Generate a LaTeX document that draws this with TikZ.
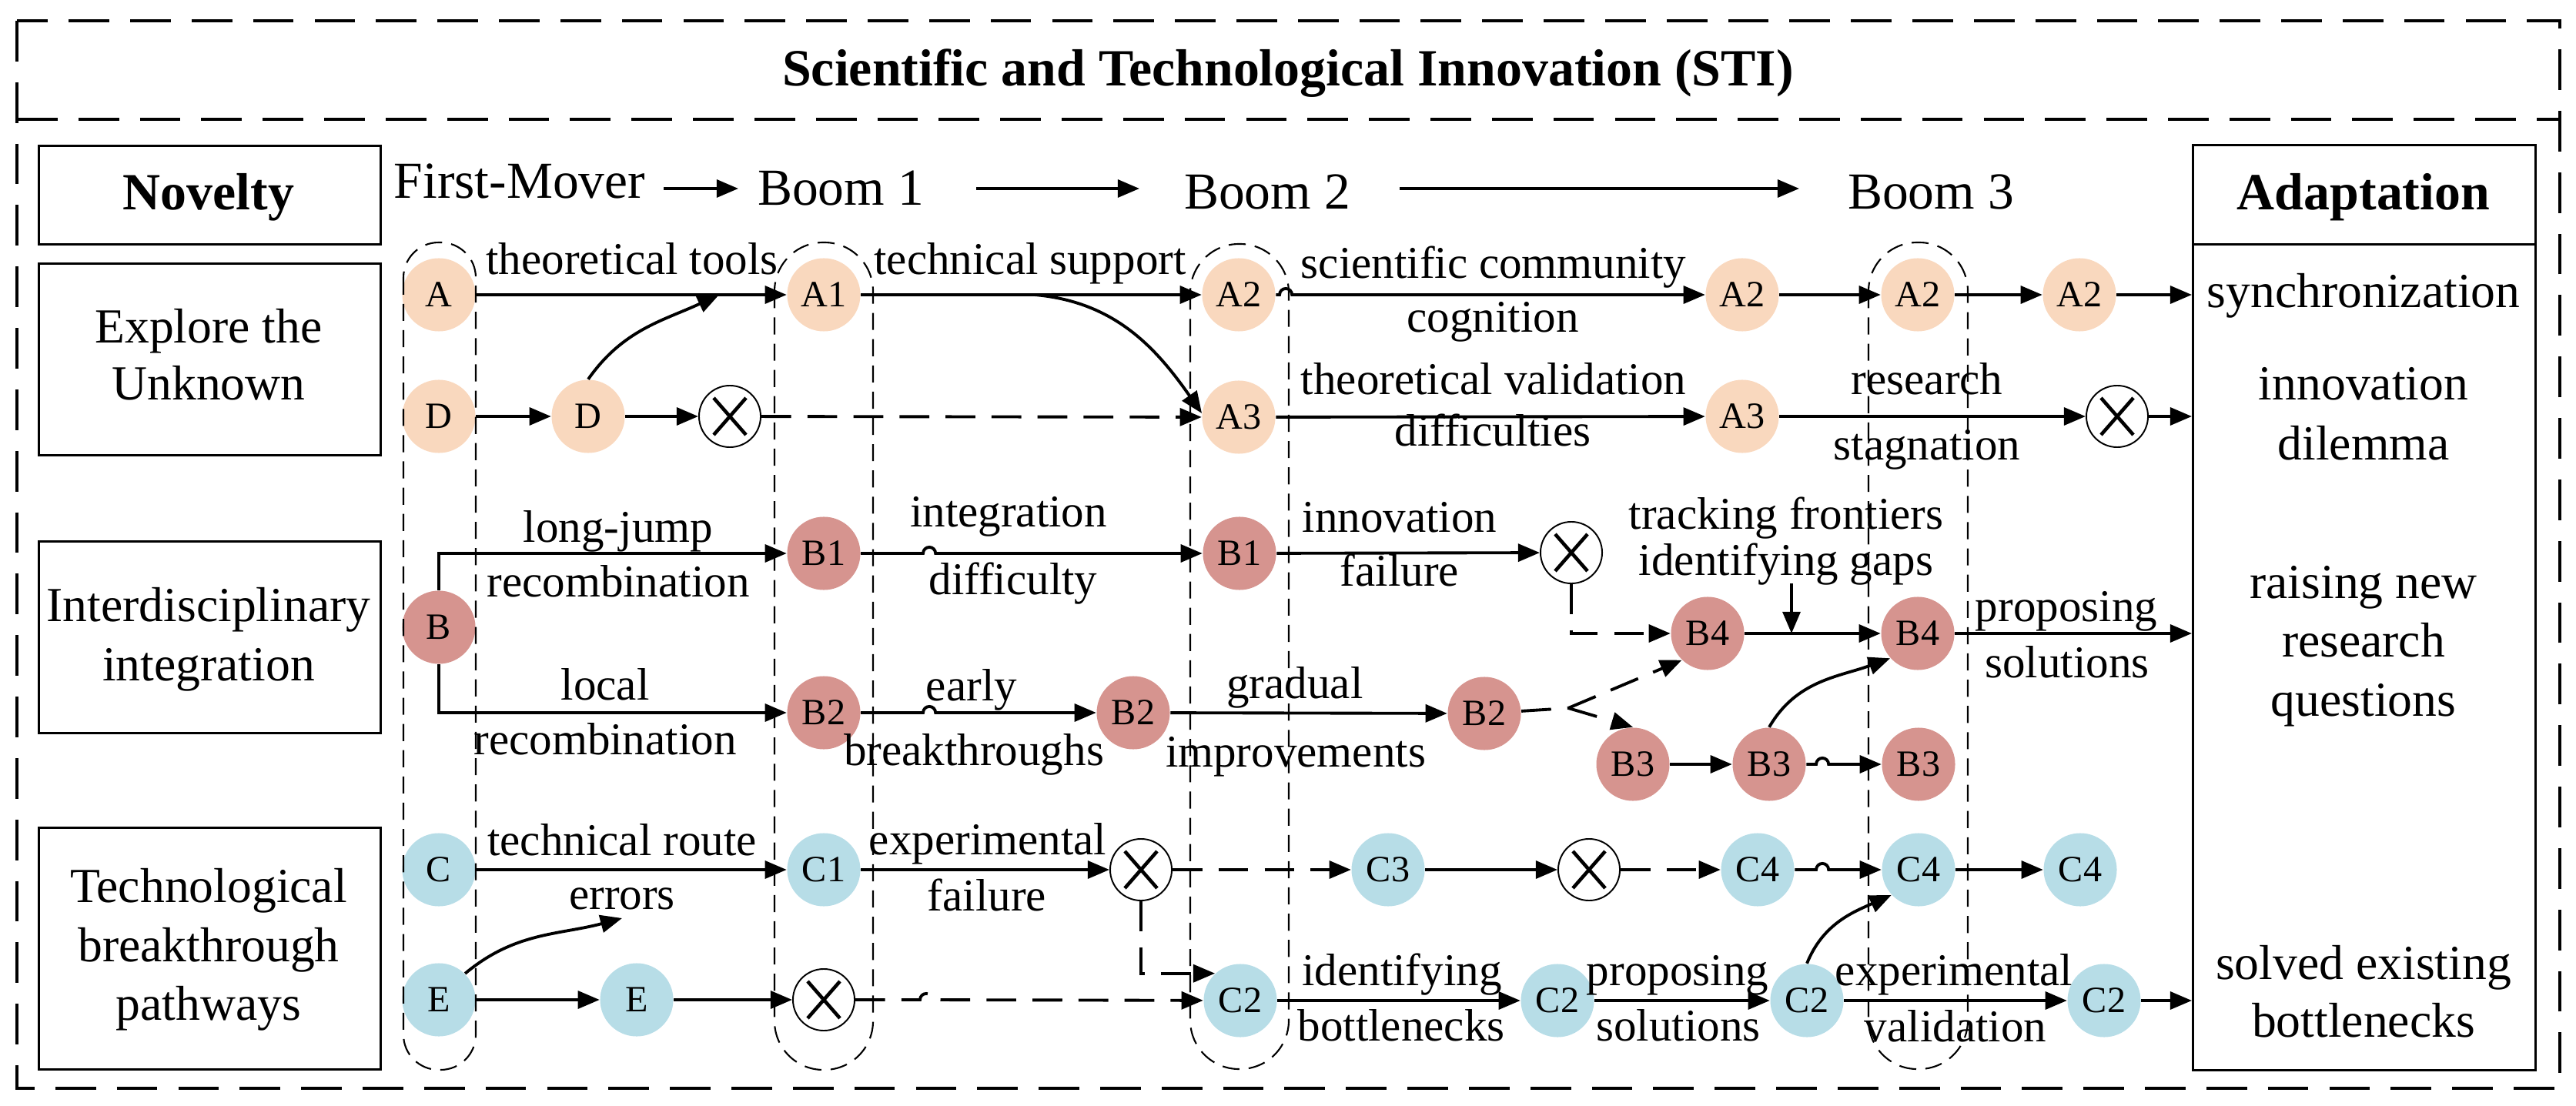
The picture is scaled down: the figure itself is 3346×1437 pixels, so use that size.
\documentclass[tikz,border=0pt]{standalone}
\usepackage{fontspec}
\setmainfont{Liberation Serif}
\usetikzlibrary{arrows.meta}
\definecolor{peach}{HTML}{F9D8BE}
\definecolor{rose}{HTML}{D6948F}
\definecolor{sky}{HTML}{B7DDE7}
\begin{document}
\begin{tikzpicture}[x=0.01cm,y=-0.01cm,
 nd/.style={circle,minimum size=0.95cm,inner sep=0pt,font=\fontsize{13.7}{16}\selectfont},
 na/.style={nd,fill=peach}, nb/.style={nd,fill=rose}, nc/.style={nd,fill=sky},
 xn/.style={circle,draw,line width=0.55pt,fill=white,minimum size=0.8cm,inner sep=0pt,
   path picture={\draw[line width=1.3pt] (path picture bounding box.center) ++(-21,-24) -- ++(42,48);
                 \draw[line width=1.3pt] (path picture bounding box.center) ++(21,-24) -- ++(-42,48);}},
 lab/.style={font=\fontsize{16.8}{19}\selectfont,inner sep=0pt,anchor=base},
 btxt/.style={font=\fontsize{18.1}{22}\selectfont,inner sep=0pt,anchor=base},
 htxt/.style={font=\fontsize{19.2}{23}\selectfont,inner sep=0pt,anchor=base},
 hbold/.style={font=\bfseries\fontsize{19.3}{23}\selectfont,inner sep=0pt,anchor=base},
 arr/.style={line width=1.1pt,-{Triangle[length=8pt,width=6.5pt]}},
 darr/.style={arr,dash pattern=on 11pt off 6pt},
 dln/.style={line width=1.1pt,dash pattern=on 11pt off 6pt},
 coldash/.style={line width=0.6pt,dash pattern=on 6.3pt off 3.4pt},
 outerdash/.style={line width=1pt,dash pattern=on 15pt off 7.7pt},
 sbox/.style={draw,line width=0.85pt,inner sep=0pt,anchor=north west}
]
\useasboundingbox (0,0) rectangle (3346,1437);

% outer frames
\draw[outerdash] (22,27) rectangle (3325,1414);
\draw[outerdash] (22,155) -- (3325,155);
\node[hbold] (title) at (1673,112) {Scientific and Technological Innovation (STI)};

% left boxes
\node[sbox,minimum width=4.44cm,minimum height=1.28cm] (novbox) at (49,188) {};
\node[sbox,minimum width=4.44cm,minimum height=2.49cm] (expbox) at (49,341) {};
\node[sbox,minimum width=4.44cm,minimum height=2.49cm] (intbox) at (49,702) {};
\node[sbox,minimum width=4.44cm,minimum height=3.14cm] (tecbox) at (49,1074) {};
\node[hbold] (tnov) at (271,273) {Novelty};
\node[btxt] (texp1) at (271,446) {Explore the};
\node[btxt] (texp2) at (271,520) {Unknown};
\node[btxt] (tint1) at (271,807) {Interdisciplinary};
\node[btxt] (tint2) at (271,884) {integration};
\node[btxt] (ttec1) at (271,1172) {Technological};
\node[btxt] (ttec2) at (271,1249) {breakthrough};
\node[btxt] (ttec3) at (271,1325) {pathways};

% adaptation column
\node[sbox,minimum width=4.45cm,minimum height=1.29cm] (adhead) at (2847,187) {};
\node[sbox,minimum width=4.45cm,minimum height=10.72cm] (adapt) at (2847,316) {};
\node[hbold] (tad) at (3070,273) {Adaptation};
\node[btxt] (ad1) at (3070,400) {synchronization};
\node[btxt] (ad2) at (3070,520) {innovation};
\node[btxt] (ad3) at (3070,597) {dilemma};
\node[btxt] (ad4) at (3070,777) {raising new};
\node[btxt] (ad5) at (3070,853) {research};
\node[btxt] (ad6) at (3070,930) {questions};
\node[btxt] (ad7) at (3070,1272) {solved existing};
\node[btxt] (ad8) at (3070,1347) {bottlenecks};

% header
\node[htxt] (hfm) at (675,258) {First-Mover};
\node[htxt] (hb1) at (1092,267) {Boom 1};
\node[htxt] (hb2) at (1646,272) {Boom 2};
\node[htxt] (hb3) at (2508,272) {Boom 3};
\coordinate (h1s) at (862,245); \coordinate (h1e) at (959,245);
\coordinate (h2s) at (1268,245); \coordinate (h2e) at (1480,245);
\coordinate (h3s) at (1818,245); \coordinate (h3e) at (2337,245);
\draw[arr] (h1s) -- (h1e);
\draw[arr] (h2s) -- (h2e);
\draw[arr] (h3s) -- (h3e);

% nodes
\node[na] (A) at (570,383) {A};
\node[na] (D) at (570,541) {D};
\node[nb] (B) at (570,815) {B};
\node[nc] (C) at (570,1130) {C};
\node[nc] (E) at (570,1299) {E};
\node[na] (D2) at (764,541) {D};
\node[xn] (X1) at (948,541) {};
\node[na] (A1) at (1070,383) {A1};
\node[nb] (B1a) at (1070,719) {B1};
\node[nb] (B2a) at (1070,926) {B2};
\node[nc] (C1) at (1070,1130) {C1};
\node[xn] (XE) at (1070,1299) {};
\node[nc] (E2) at (827,1299) {E};
\node[nb] (B2b) at (1472,926) {B2};
\node[xn] (XC) at (1482,1130) {};
\node[na] (A2a) at (1609,383) {A2};
\node[na] (A3a) at (1609,542) {A3};
\node[nb] (B1b) at (1610,719) {B1};
\node[nc] (C2a) at (1611,1300) {C2};
\node[na] (A2b) at (2263,383) {A2};
\node[na] (A3b) at (2263,541) {A3};
\node[na] (A2c) at (2491,383) {A2};
\node[na] (A2d) at (2701,383) {A2};
\node[xn] (XA) at (2750,541) {};
\node[xn] (XB) at (2041,718) {};
\node[nb] (B4a) at (2218,823) {B4};
\node[nb] (B4b) at (2491,823) {B4};
\node[nb] (B2c) at (1928,927) {B2};
\node[nb] (B3a) at (2121,993) {B3};
\node[nb] (B3b) at (2298,993) {B3};
\node[nb] (B3c) at (2492,993) {B3};
\node[nc] (C3) at (1803,1130) {C3};
\node[xn] (XC2) at (2064,1130) {};
\node[nc] (C4a) at (2283,1130) {C4};
\node[nc] (C4b) at (2492,1130) {C4};
\node[nc] (C4c) at (2702,1130) {C4};
\node[nc] (C2b) at (2023,1300) {C2};
\node[nc] (C2c) at (2347,1300) {C2};
\node[nc] (C2d) at (2733,1300) {C2};

% dashed columns
\draw[coldash,rounded corners=13pt] (524,315) rectangle (618,1390);
\draw[coldash,rounded corners=18pt] (1006,315) rectangle (1134,1390);
\draw[coldash,rounded corners=18pt] (1546,317) rectangle (1674,1389);
\draw[coldash,rounded corners=18pt] (2427,315) rectangle (2556,1389);

% row A
\draw[arr] (A) -- (A1);
\draw[arr] (A1) -- (A2a);
\draw[arr] (A2a) -- (1662,383) arc[start angle=180,end angle=0,radius=2.3pt] -- (A2b);
\draw[arr] (A2b) -- (A2c);
\draw[arr] (A2c) -- (A2d);
\draw[arr] (A2d) -- (A2d -| adapt.west);
% row D / A3
\draw[arr] (D) -- (D2);
\draw[arr] (D2) -- (X1);
\draw[darr] (X1) -- (A3a);
\coordinate (tA) at (934,383);
\draw[arr] (D2.north) to[out=55,in=205] (tA);
\coordinate (sA) at (1344,383);
\draw[arr] (sA) to[out=-5,in=125] (A3a.174);
\draw[arr] (A3a) -- (A3b);
\draw[arr] (A3b) -- (XA);
\draw[arr] (XA) -- (XA -| adapt.west);
% row B
\draw[arr] (B.north) |- (B1a);
\draw[arr] (B.south) |- (B2a);
\draw[arr] (B1a) -- (1199,719) arc[start angle=180,end angle=0,radius=2.3pt] -- (B1b);
\draw[arr] (B1b) -- (XB);
\draw[darr] (XB.south) |- (B4a);
\draw[arr] (B4a) -- (B4b);
\coordinate (gapTop) at (2327,758);
\draw[arr] (gapTop) -- (gapTop |- B4a);
\draw[arr] (B4b) -- (B4b -| adapt.west);
\draw[arr] (B2a) -- (1199,926) arc[start angle=180,end angle=0,radius=2.3pt] -- (B2b);
\draw[arr] (B2b) -- (B2c);
\coordinate (J) at (2037,920);
\draw[dln] (B2c) -- (J);
\draw[darr] (J) -- (B4a.226);
\draw[darr] (J) -- (B3a.north);
\draw[arr] (B3a) -- (B3b);
\draw[arr] (B3b) -- (2359,993) arc[start angle=180,end angle=0,radius=2.3pt] -- (B3c);
\draw[arr] (B3b.north) to[out=60,in=200] (B4b.222);
% row C
\draw[arr] (C) -- (C1);
\draw[arr] (C1) -- (XC);
\draw[darr] (XC) -- (C3);
\draw[arr] (C3) -- (XC2);
\draw[darr] (XC2) -- (C4a);
\draw[arr] (C4a) -- (2359,1130) arc[start angle=180,end angle=0,radius=2.3pt] -- (C4b);
\draw[arr] (C4b) -- (C4c);
\draw[darr] (XC.south) |- (C2a.133);
% row E / C2
\draw[arr] (E) -- (E2);
\draw[arr] (E2) -- (XE);
\draw[darr] (XE) -- (1195,1299) arc[start angle=180,end angle=0,radius=2.3pt] -- (C2a);
\coordinate (tE) at (808,1193);
\draw[arr] (E.45) to[out=40,in=195] (tE);
\draw[arr] (C2a) -- (C2b);
\draw[arr] (C2b) -- (C2c);
\draw[arr] (C2c) -- (C2d);
\draw[arr] (C2d) -- (C2d -| adapt.west);
\draw[arr] (C2c.north) to[out=68,in=204] (C4b.223);

% labels
\node[lab] (l1) at (821,357) {theoretical tools};
\node[lab] (l2) at (1338,357) {technical support};
\node[lab] (l3) at (1940,362) {scientific community};
\node[lab] (l4) at (1939,432) {cognition};
\node[lab] (l5) at (1940,513) {theoretical validation};
\node[lab] (l6) at (1939,580) {difficulties};
\node[lab] (l7) at (2503,513) {research};
\node[lab] (l8) at (2503,598) {stagnation};
\node[lab] (l9) at (803,704) {long-jump};
\node[lab] (l10) at (803,775) {recombination};
\node[lab] (l11) at (1310,684) {integration};
\node[lab] (l12) at (1316,772) {difficulty};
\node[lab] (l13) at (1818,691) {innovation};
\node[lab] (l14) at (1818,761) {failure};
\node[lab] (l15) at (2320,687) {tracking frontiers};
\node[lab] (l16) at (2320,747) {identifying gaps};
\node[lab] (l17) at (2684,807) {proposing};
\node[lab] (l18) at (2685,880) {solutions};
\node[lab] (l19) at (786,909) {local};
\node[lab] (l20) at (786,980) {recombination};
\node[lab] (l21) at (1262,910) {early};
\node[lab] (l22) at (1265,994) {breakthroughs};
\node[lab] (l23) at (1682,907) {gradual};
\node[lab] (l24) at (1683,996) {improvements};
\node[lab] (l25) at (808,1111) {technical route};
\node[lab] (l26) at (808,1181) {errors};
\node[lab] (l27) at (1283,1110) {experimental};
\node[lab] (l28) at (1282,1183) {failure};
\node[lab] (l29) at (1821,1280) {identifying};
\node[lab] (l30) at (1820,1352) {bottlenecks};
\node[lab] (l31) at (2179,1280) {proposing};
\node[lab] (l32) at (2180,1352) {solutions};
\node[lab] (l33) at (2538,1280) {experimental};
\node[lab] (l34) at (2540,1353) {validation};
\end{tikzpicture}
\end{document}
